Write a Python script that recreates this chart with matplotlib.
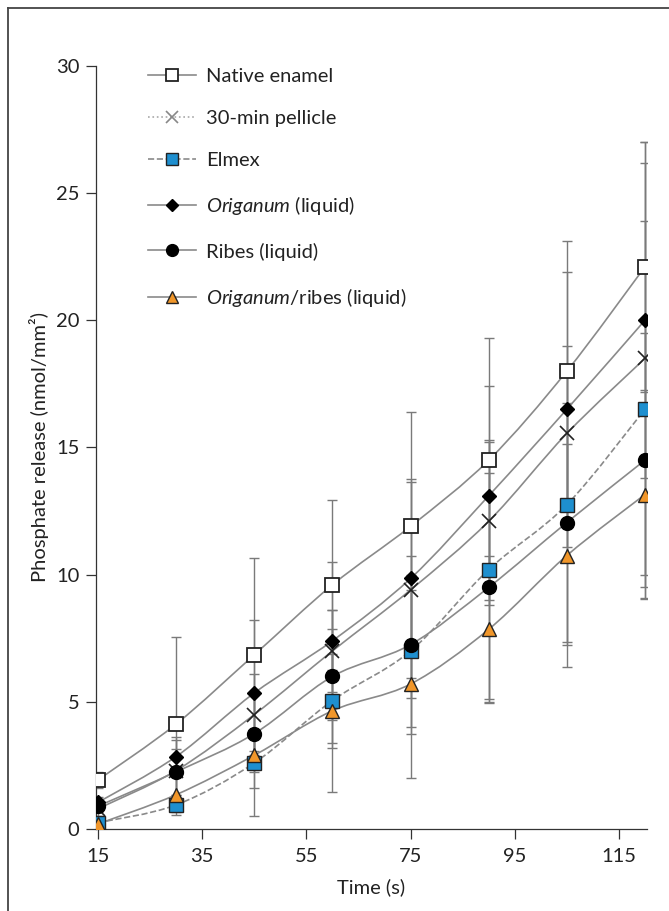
import numpy as np
import matplotlib
matplotlib.use("Agg")
import matplotlib.pyplot as plt
from matplotlib.path import Path
from matplotlib.patches import PathPatch
from matplotlib.lines import Line2D

plt.rcParams['font.family'] = ['Lato', 'DejaVu Sans']
plt.rcParams['mathtext.fontset'] = 'custom'
plt.rcParams['mathtext.rm'] = 'Lato'
plt.rcParams['mathtext.it'] = 'Lato:italic'

# data
times = [15, 30, 45, 60, 75, 90, 105, 120]

native = [1.93, 4.13, 6.85, 9.6, 11.9, 14.5, 18.0, 22.1]
native_sd = [0.3, 3.4, 3.8, 3.35, 4.5, 4.8, 5.1, 4.9]
pellicle = [0.8, 2.3, 4.5, 7.0, 9.4, 12.1, 15.55, 18.5]
pellicle_sd = [0.3, 1.2, 1.6, 1.6, 4.25, 3.1, 3.45, 8.5]
elmex = [0.25, 0.95, 2.6, 5.05, 7.0, 10.2, 12.75, 16.5]
elmex_sd = [0.15, 0.4, 1.0, 1.85, 3.0, 5.1, 5.5, 7.4]
origanum = [1.05, 2.85, 5.35, 7.4, 9.85, 13.1, 16.5, 20.0]
origanum_sd = [0.2, 0.75, 2.85, 3.1, 3.9, 4.3, 5.4, 6.2]
ribes = [0.9, 2.25, 3.75, 6.0, 7.25, 9.5, 12.05, 14.5]
ribes_sd = [0.25, 0.9, 1.5, 2.6, 3.5, 4.5, 4.7, 5.0]
orib = [0.2, 1.35, 2.9, 4.65, 5.7, 7.85, 10.75, 13.15]
orib_sd = [0.1, 0.7, 2.4, 3.2, 3.7, 2.9, 4.4, 4.1]

labels = ['Native enamel', '30-min pellicle', 'Elmex',
          r'$\mathit{Origanum}$ (liquid)', 'Ribes (liquid)',
          r'$\mathit{Origanum}$/ribes (liquid)']
xticks = [15, 35, 55, 75, 95, 115]
yticks = [0, 5, 10, 15, 20, 25, 30]

line_col = '#8a8a8a'
err_col = '#7a7a7a'

# marker styles per series
styles = [
    dict(marker='s', mfc='white', mec='#222222', ms=9.5, mew=1.3, ls='-'),
    dict(marker='x', mfc='none', mec='#222222', ms=10, mew=1.2, ls='-'),
    dict(marker='s', mfc='#1e8fcf', mec='#222222', ms=9.5, mew=1.0, ls='--'),
    dict(marker='D', mfc='black', mec='black', ms=7, mew=1.0, ls='-'),
    dict(marker='o', mfc='black', mec='black', ms=10, mew=1.0, ls='-'),
    dict(marker='^', mfc='#f0962a', mec='#222222', ms=10, mew=1.0, ls='-'),
]
series = [native, pellicle, elmex, origanum, ribes, orib]
errors = [native_sd, pellicle_sd, elmex_sd, origanum_sd, ribes_sd, orib_sd]


def smooth_path(x, y):
    # Catmull-Rom style curve through the points, drawn as cubic beziers
    x = np.asarray(x, float)
    y = np.asarray(y, float)
    px = np.concatenate([[x[0]], x, [x[-1]]])
    py = np.concatenate([[y[0]], y, [y[-1]]])
    verts = [(x[0], y[0])]
    codes = [Path.MOVETO]
    for i in range(1, len(px) - 2):
        c1 = (px[i] + (px[i + 1] - px[i - 1]) / 6, py[i] + (py[i + 1] - py[i - 1]) / 6)
        c2 = (px[i + 1] - (px[i + 2] - px[i]) / 6, py[i + 1] - (py[i + 2] - py[i]) / 6)
        verts += [c1, c2, (px[i + 1], py[i + 1])]
        codes += [Path.CURVE4] * 3
    return Path(verts, codes)


fig = plt.figure(figsize=(6.69, 9.11), dpi=100)
ax = fig.add_axes([0.1435, 0.090, 0.8236, 0.8376])

for y, e in zip(series, errors):
    ax.errorbar(times, y, yerr=e, fmt='none', ecolor=err_col, elinewidth=1.0,
                capsize=3.5, capthick=1.0, zorder=1)

for y, st in zip(series, styles):
    p = smooth_path(times, y)
    ax.add_patch(PathPatch(p, facecolor='none', edgecolor=line_col, lw=1.2,
                           linestyle=st['ls'], zorder=2))
    ax.plot(times, y, ls='none', marker=st['marker'], mfc=st['mfc'], mec=st['mec'],
            ms=st['ms'], mew=st['mew'], zorder=3)

handles = []
for i, st in enumerate(styles):
    ls = st['ls']
    col = line_col
    if i == 1:
        ls = ':'
        col = '#a8a8a8'
    handles.append(Line2D([], [], color=col, lw=1.2, ls=ls, marker=st['marker'],
                          mfc=st['mfc'], mec=st['mec'] if i != 1 else '#888888',
                          ms=st['ms'] * 0.85, mew=st['mew']))
ax.legend(handles, labels, loc='upper left', bbox_to_anchor=(0.094, 0.998),
          frameon=False, fontsize=14.5, handlelength=2.4, handletextpad=0.5,
          labelspacing=1.25, borderpad=0, borderaxespad=0, labelcolor='#222222')

ax.set_xlim(14.6, 120.4)
ax.set_ylim(0, 30)
ax.set_xticks(xticks)
ax.set_yticks(yticks)
ax.spines['top'].set_visible(False)
ax.spines['right'].set_visible(False)
for s in ['left', 'bottom']:
    ax.spines[s].set_color('#333333')
    ax.spines[s].set_linewidth(0.9)
ax.tick_params(direction='out', length=7, width=0.9, color='#333333',
               labelsize=14.5, labelcolor='#222222', pad=5)
ax.tick_params(axis='x', pad=7)
ax.set_xlabel('Time (s)', fontsize=14.5, color='#222222', labelpad=9)
ax.set_ylabel('Phosphate release (nmol/mm²)', fontsize=14.5, color='#222222', labelpad=5)

# frame around the figure (left and top edges visible)
fig.add_artist(Line2D([0.012, 0.012], [0.0, 0.991], color='#444444', lw=1.3,
                      transform=fig.transFigure))
fig.add_artist(Line2D([0.012, 1.0], [0.991, 0.991], color='#444444', lw=1.3,
                      transform=fig.transFigure))

fig.savefig('out.png', dpi=100)
